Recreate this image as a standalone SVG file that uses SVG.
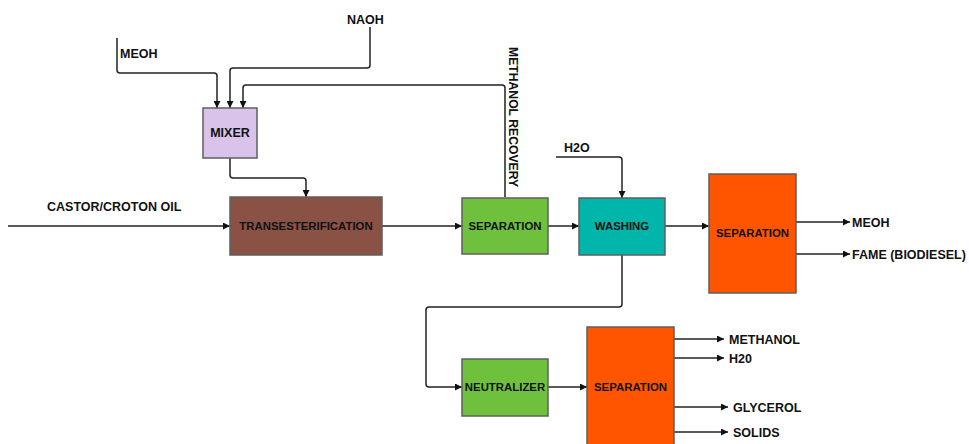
<svg xmlns="http://www.w3.org/2000/svg" width="969" height="444" viewBox="0 0 969 444">
<defs>
<marker id="ah" viewBox="0 0 10 10" refX="10" refY="5" markerWidth="7" markerHeight="7" markerUnits="userSpaceOnUse" orient="auto">
<path d="M0,0 L10,5 L0,10 z" fill="#111"/>
</marker>
<style>
.box{stroke:#5f5f5f;stroke-width:1.5}
.lbl{font-family:"Liberation Sans",Arial,sans-serif;font-weight:bold;font-size:11.4px;fill:#111;text-anchor:middle;dominant-baseline:central}
.txt{font-family:"Liberation Sans",Arial,sans-serif;font-weight:bold;font-size:12.5px;fill:#111}
.ln{fill:none;stroke:#222;stroke-width:1.5}
.arr{fill:none;stroke:#222;stroke-width:1.5;marker-end:url(#ah)}
</style>
</defs>
<rect width="969" height="444" fill="#fff"/>
<g id="connectors">
<path class="arr" d="M117,38 V70 Q117,73 120,73 H214 Q217,73 217,76 V108"/>
<path class="arr" d="M370,27 V65 Q370,68 367,68 H233 Q230,68 230,71 V108"/>
<path class="arr" d="M505,197 V88 Q505,85 502,85 H246 Q243,85 243,88 V108"/>
<path class="arr" d="M230,158 V175 Q230,178 233,178 H303 Q306,178 306,181 V197"/>
<path class="arr" d="M8,226 H230"/>
<path class="arr" d="M382,226 H462"/>
<path class="arr" d="M548,226 H579"/>
<path class="arr" d="M556,157 H619 Q622,157 622,160 V198"/>
<path class="arr" d="M665,226 H709"/>
<path class="arr" d="M796,222 H850"/>
<path class="arr" d="M796,254 H850"/>
<path class="arr" d="M622,255 V304 Q622,307 619,307 H429 Q426,307 426,310 V384 Q426,387 429,387 H462"/>
<path class="arr" d="M548,387 H587"/>
<path class="arr" d="M674,339 H724"/>
<path class="arr" d="M674,358 H724"/>
<path class="arr" d="M674,407 H728"/>
<path class="arr" d="M674,432 H728"/>
</g>
<g id="labels">
<text class="txt" x="347" y="24">NAOH</text>
<text class="txt" x="120" y="58">MEOH</text>
<text class="txt" x="47" y="211">CASTOR/CROTON OIL</text>
<text class="txt" x="564" y="152">H2O</text>
<text class="txt" x="852" y="227">MEOH</text>
<text class="txt" x="852" y="259">FAME (BIODIESEL)</text>
<text class="txt" x="729" y="344">METHANOL</text>
<text class="txt" x="729" y="363">H20</text>
<text class="txt" x="733" y="412">GLYCEROL</text>
<text class="txt" x="733" y="437">SOLIDS</text>
<text class="txt" style="font-size:12.2px" transform="translate(508.5,47) rotate(90)">METHANOL RECOVERY</text>
</g>
<g id="mixer">
<rect class="box" x="203" y="108" width="54" height="50" fill="#d9c3ea"/>
<text class="lbl" x="230" y="133" style="font-size:12.5px">MIXER</text>
</g>
<g id="transesterification">
<rect class="box" x="230" y="197" width="152" height="58" fill="#8a5245"/>
<text class="lbl" x="306" y="226">TRANSESTERIFICATION</text>
</g>
<g id="separation1">
<rect class="box" x="462" y="198" width="86" height="56" fill="#6fc13d"/>
<text class="lbl" x="505" y="226">SEPARATION</text>
</g>
<g id="washing">
<rect class="box" x="579" y="198" width="86" height="57" fill="#00b5aa"/>
<text class="lbl" x="622" y="226">WASHING</text>
</g>
<g id="separation2">
<rect class="box" x="709" y="174" width="87" height="119" fill="#ff5500"/>
<text class="lbl" x="752.5" y="233">SEPARATION</text>
</g>
<g id="neutralizer">
<rect class="box" x="462" y="359" width="86" height="57" fill="#6fc13d"/>
<text class="lbl" x="505" y="387">NEUTRALIZER</text>
</g>
<g id="separation3">
<rect class="box" x="587" y="327" width="87" height="130" fill="#ff5500"/>
<text class="lbl" x="630.5" y="387">SEPARATION</text>
</g>
</svg>
